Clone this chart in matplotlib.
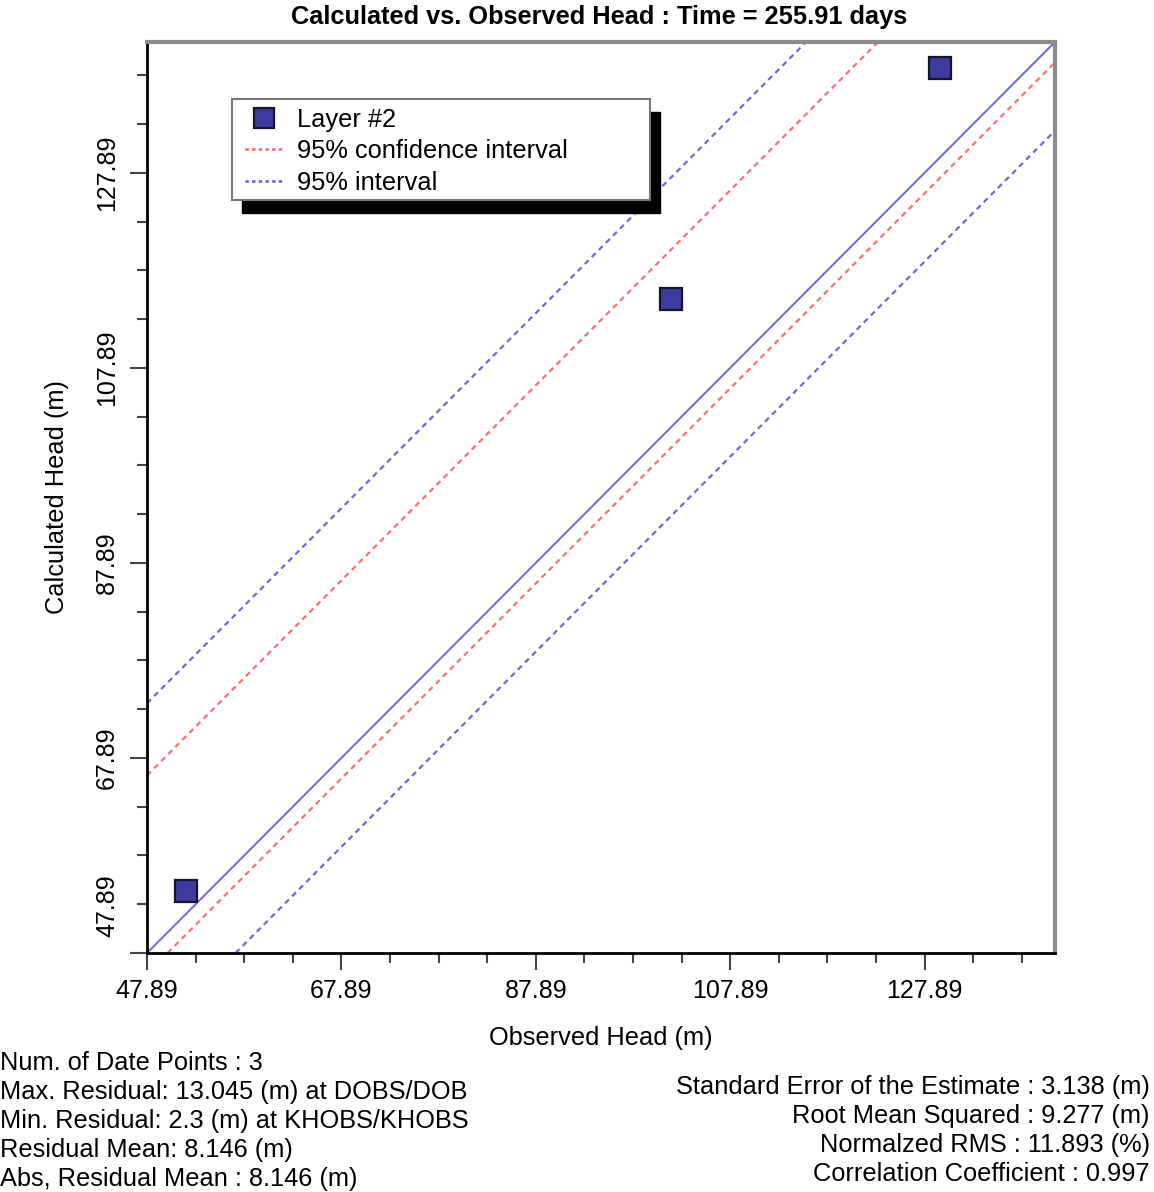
import matplotlib.pyplot as plt
import matplotlib.patches as mpatches
from matplotlib.transforms import ScaledTranslation

plt.rcParams["font.family"] = ["Liberation Sans", "DejaVu Sans"]

# observed vs calculated head, Layer #2
observed = [51.9, 101.8, 129.5]
calculated = [54.2, 114.9, 138.6]

axis_min = 47.89
axis_max = 141.3
major_ticks = [47.89, 67.89, 87.89, 107.89, 127.89]
minor_ticks = [52.89, 57.89, 62.89, 72.89, 77.89, 82.89, 92.89, 97.89, 102.89,
               112.89, 117.89, 122.89, 132.89, 137.89]

# 1:1 line and interval lines (end points)
ideal_x = [47.89, 141.3]
ideal_y = [47.89, 141.3]
conf_upper_x = [47.89, 123.1]
conf_upper_y = [66.1, 141.3]
conf_lower_x = [50.0, 141.3]
conf_lower_y = [47.89, 139.2]
pred_upper_x = [47.89, 115.7]
pred_upper_y = [73.5, 141.3]
pred_lower_x = [57.0, 141.3]
pred_lower_y = [47.89, 132.2]

stats_left = [
    "Num. of Date Points : 3",
    "Max. Residual: 13.045 (m) at DOBS/DOB",
    "Min. Residual: 2.3 (m) at KHOBS/KHOBS",
    "Residual Mean: 8.146 (m)",
    "Abs, Residual Mean : 8.146 (m)",
]
stats_right = [
    "Standard Error of the Estimate : 3.138 (m)",
    "Root Mean Squared : 9.277 (m)",
    "Normalzed RMS : 11.893 (%)",
    "Correlation Coefficient : 0.997",
]

red = "#ff6e6e"
blue = "#6a6ad8"
square_face = "#3c3ca0"

fig = plt.figure(figsize=(11.54, 11.92), dpi=100)
ax = fig.add_axes([0.1274, 0.2005, 0.7868, 0.7643])

ax.plot(ideal_x, ideal_y, color=blue, lw=1.4, zorder=2)
ax.plot(conf_upper_x, conf_upper_y, color=red, lw=1.6, ls=(0, (2.5, 2)), zorder=2)
ax.plot(conf_lower_x, conf_lower_y, color=red, lw=1.6, ls=(0, (2.5, 2)), zorder=2)
ax.plot(pred_upper_x, pred_upper_y, color=blue, lw=1.6, ls=(0, (2.5, 2)), zorder=2)
ax.plot(pred_lower_x, pred_lower_y, color=blue, lw=1.6, ls=(0, (2.5, 2)), zorder=2)

ax.plot(observed, calculated, ls="none", marker="s", markersize=16,
        markerfacecolor=square_face, markeredgecolor="#15152e",
        markeredgewidth=1.6, zorder=3)

ax.set_xlim(axis_min, axis_max)
ax.set_ylim(axis_min, axis_max)
ax.set_xticks(major_ticks)
ax.set_yticks(major_ticks)
ax.set_xticks(minor_ticks, minor=True)
ax.set_yticks(minor_ticks, minor=True)
ax.set_xticklabels([f"{t:.2f}" for t in major_ticks])
ax.set_yticklabels([f"{t:.2f}" for t in major_ticks], rotation=90, va="center")
ax.tick_params(axis="both", which="major", length=12, width=1.5, labelsize=18,
               color="#444444")
ax.tick_params(axis="both", which="minor", length=7, width=1.5, color="#444444")
ax.tick_params(axis="x", which="major", pad=7)
ax.tick_params(axis="y", which="major", pad=8)

# first y label sits above the corner
first = ax.get_yticklabels()[0]
first.set_transform(first.get_transform() + ScaledTranslation(0, 0.47, fig.dpi_scale_trans))

for side in ["left", "bottom"]:
    ax.spines[side].set_color("black")
    ax.spines[side].set_linewidth(2)
for side in ["top", "right"]:
    ax.spines[side].set_color("#8c8c8c")
    ax.spines[side].set_linewidth(3)

ax.set_xlabel("Observed Head (m)", fontsize=18.3, labelpad=16)
ax.set_ylabel("Calculated Head (m)", fontsize=18.3, labelpad=19)

fig.text(0.519, 0.986, "Calculated vs. Observed Head : Time = 255.91 days",
         ha="center", va="center", fontsize=18.3, fontweight="bold")

# legend box with hard shadow
box_x, box_y, box_w, box_h = 0.0936, 0.8266, 0.4604, 0.1108
ax.add_patch(mpatches.Rectangle((box_x + 0.011, box_y - 0.0143), box_w, box_h,
                                transform=ax.transAxes, facecolor="black",
                                edgecolor="black", zorder=4))
ax.add_patch(mpatches.Rectangle((box_x, box_y), box_w, box_h,
                                transform=ax.transAxes, facecolor="white",
                                edgecolor="#777777", lw=1.5, zorder=4.5))

handles = [
    plt.Line2D([], [], ls="none", marker="s", markersize=15,
               markerfacecolor=square_face, markeredgecolor="#15152e",
               markeredgewidth=1.6),
    plt.Line2D([], [], color=red, lw=2, ls=(0, (1.2, 1.2))),
    plt.Line2D([], [], color=blue, lw=2, ls=(0, (1.2, 1.2))),
]
labels = ["Layer #2", "95% confidence interval", "95% interval"]
ax.legend(handles, labels, loc="upper left", bbox_to_anchor=(0.108, 0.928),
          frameon=False, fontsize=18.3, borderpad=0, borderaxespad=0,
          handlelength=1.45, handletextpad=0.6, labelspacing=0.3)

for i, line in enumerate(stats_left):
    fig.text(0.0, 1 - (1063 + 29 * i) / 1192, line, ha="left", va="center",
             fontsize=18.3)
for i, line in enumerate(stats_right):
    fig.text(0.9965, 1 - (1087 + 29 * i) / 1192, line, ha="right", va="center",
             fontsize=18.3)

fig.savefig("out.png", dpi=100)
